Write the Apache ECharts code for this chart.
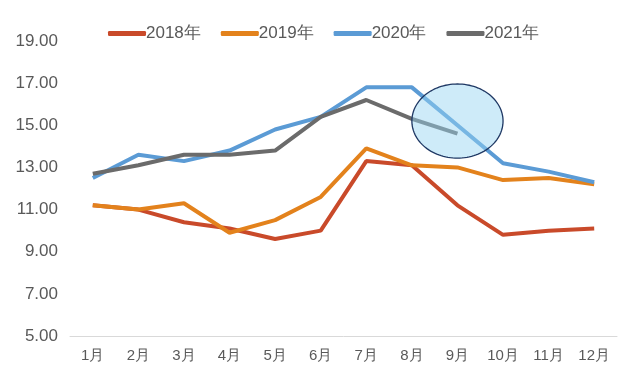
<!DOCTYPE html>
<html><head><meta charset="utf-8">
<script src="https://cdn.jsdelivr.net/npm/echarts@6/dist/echarts.min.js"></script>
<style>html,body{margin:0;padding:0;background:#fff}#c{width:630px;height:370px}</style>
</head><body><div id="c"></div>
<script>
var categories = ['1月','2月','3月','4月','5月','6月','7月','8月','9月','10月','11月','12月'];
var yTicks = ['5.00','7.00','9.00','11.00','13.00','15.00','17.00','19.00'];
var s2018 = [11.2, 11.0, 10.4, 10.1, 9.6, 10.0, 13.3, 13.1, 11.2, 9.8, 10.0, 10.1];
var s2019 = [11.2, 11.0, 11.3, 9.9, 10.5, 11.6, 13.9, 13.1, 13.0, 12.4, 12.5, 12.2];
var s2020 = [12.5, 13.6, 13.3, 13.8, 14.8, 15.4, 16.8, 16.8, 15.0, 13.2, 12.8, 12.3];
var s2021 = [12.7, 13.1, 13.6, 13.6, 13.8, 15.4, 16.2, 15.3, 14.6];
var seriesNames = ['2018年','2019年','2020年','2021年'];
var colors = ['#c94a2a','#e3821c','#5b9bd5','#6b6b6b'];
var highlight = {cat: '9月', value: 15.2, halfCats: 1.04, halfValue: 1.76};

var chart = echarts.init(document.getElementById('c'));
var data = [s2018, s2019, s2020, s2021];
var option = {
  animation: false,
  color: colors,
  textStyle: {fontFamily: 'Liberation Sans, Arial, sans-serif'},
  legend: {
    top: 20, left: 103, itemGap: 20, itemWidth: 38, itemHeight: 5,
    icon: 'roundRect',
    textStyle: {color: '#595959', fontSize: 17, padding: [0,0,0,-5]},
    data: seriesNames
  },
  grid: {left: 70, right: 13, top: 41, bottom: 34},
  xAxis: {
    type: 'category', data: categories, boundaryGap: true,
    axisLine: {lineStyle: {color: '#d9d9d9', width: 1}},
    axisTick: {show: false},
    axisLabel: {color: '#595959', fontSize: 15, margin: 12}
  },
  yAxis: {
    type: 'value', min: 5, max: 19, interval: 2,
    axisLine: {show: false}, axisTick: {show: false}, splitLine: {show: false},
    axisLabel: {color: '#595959', fontSize: 17, margin: 12,
      formatter: function (v) { var i = Math.round((v - 5) / 2); return yTicks[i]; }}
  },
  series: data.map(function (d, i) {
    return {name: seriesNames[i], type: 'line', data: d, symbol: 'none',
      lineStyle: {width: 4, color: colors[i]}};
  })
};
chart.setOption(option);

var ci = categories.indexOf(highlight.cat);
var c = chart.convertToPixel({gridIndex: 0}, [ci, highlight.value]);
var r = chart.convertToPixel({gridIndex: 0}, [ci + highlight.halfCats, highlight.value + highlight.halfValue]);
var rx = r[0] - c[0], ry = c[1] - r[1];
var pts = [];
for (var k = 0; k < 120; k++) {
  var a = k / 120 * Math.PI * 2;
  pts.push([c[0] + rx * Math.cos(a), c[1] + ry * Math.sin(a)]);
}
chart.setOption({
  graphic: [{
    type: 'polygon', z: 100,
    shape: {points: pts},
    style: {fill: 'rgba(150,212,242,0.47)', stroke: '#1f3864', lineWidth: 1.3}
  }]
});
</script></body></html>
